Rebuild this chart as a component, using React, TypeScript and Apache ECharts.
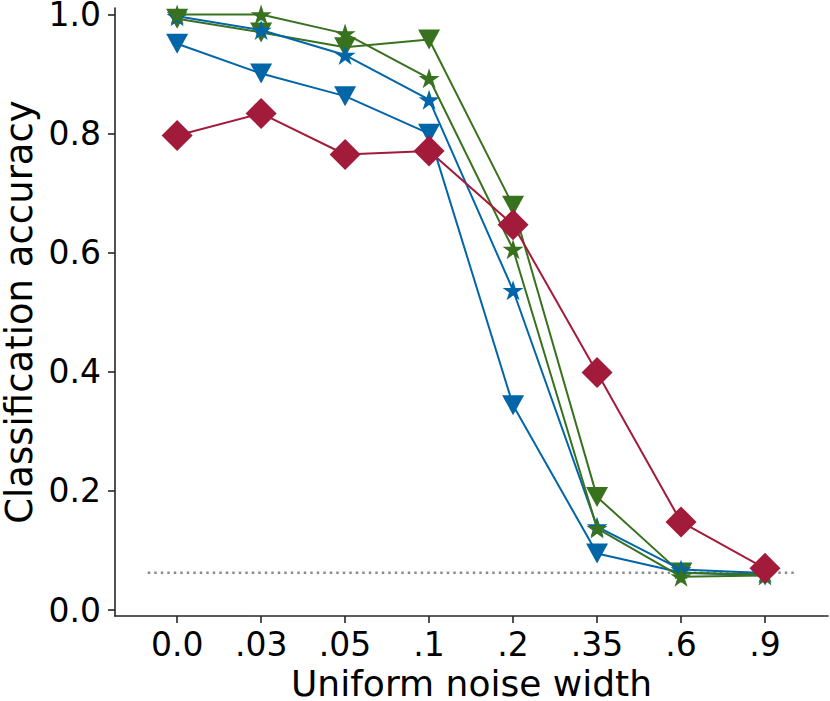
import React, { useEffect, useRef } from "react";
import * as echarts from "echarts";

const categories = ["0.0", ".03", ".05", ".1", ".2", ".35", ".6", ".9"];
const yTicks = [0, 0.2, 0.4, 0.6, 0.8, 1.0];
const chanceLevel = 0.0625;

const blueTriangle = [0.951, 0.901, 0.863, 0.8, 0.344, 0.095, 0.063, 0.058];
const greenTriangle = [0.993, 0.97, 0.945, 0.958, 0.679, 0.19, 0.062, 0.06];
const blueStar = [0.997, 0.974, 0.932, 0.857, 0.537, 0.14, 0.068, 0.062];
const greenStar = [1.0, 1.0, 0.968, 0.893, 0.606, 0.137, 0.056, 0.058];
const redDiamond = [0.797, 0.834, 0.765, 0.771, 0.647, 0.399, 0.148, 0.07];

const BLUE = "#0066A8";
const GREEN = "#38721F";
const RED = "#A31B3A";

const STAR =
  "path://M0,-1 L0.2245,-0.309 L0.951,-0.309 L0.3633,0.118 L0.588,0.809 L0,0.382 L-0.588,0.809 L-0.3633,0.118 L-0.951,-0.309 L-0.2245,-0.309 Z";

const toPoints = (arr: number[]) => arr.map((v, i) => [i, v]);

export default function App() {
  const ref = useRef<HTMLDivElement>(null);
  useEffect(() => {
    if (!ref.current) return;
    const chart = echarts.init(ref.current, null, { renderer: "svg" });
    const font = "DejaVu Sans";
    const mk = (
      name: string,
      data: number[],
      color: string,
      symbol: string,
      size: number[],
      rotate: number,
      z: number
    ) => ({
      name,
      type: "line",
      data: toPoints(data),
      symbol,
      symbolSize: size,
      symbolRotate: rotate,
      showAllSymbol: true,
      z,
      lineStyle: { color, width: 2 },
      itemStyle: { color, borderWidth: 0 },
      emphasis: { disabled: true },
    });
    chart.setOption({
      animation: false,
      grid: { left: 115, right: 2, top: 8, bottom: 85, outerBoundsMode: "none", containLabel: false },
      xAxis: {
        type: "value",
        min: -0.74,
        max: 7.75,
        name: "Uniform noise width",
        nameLocation: "middle",
        nameGap: 50,
        nameTextStyle: { fontFamily: font, fontSize: 36, lineHeight: 30, color: "#000" },
        axisLine: { show: true, onZero: false, lineStyle: { color: "#262626", width: 1.6 } },
        axisTick: { show: true, customValues: categories.map((_, i) => i), length: 7, lineStyle: { color: "#262626", width: 1.6 } },
        axisLabel: {
          customValues: categories.map((_, i) => i),
          formatter: (v: number) => categories[Math.round(v)] ?? "",
          fontFamily: font,
          fontSize: 33,
          color: "#000",
          margin: 12,
        },
        splitLine: { show: false },
      },
      yAxis: {
        type: "value",
        min: -0.01,
        max: 1.011,
        name: "Classification accuracy",
        nameLocation: "middle",
        nameRotate: 90,
        nameGap: 75,
        nameTextStyle: { fontFamily: font, fontSize: 37, lineHeight: 30, color: "#000" },
        axisLine: { show: true, onZero: false, lineStyle: { color: "#262626", width: 1.6 } },
        axisTick: { show: true, customValues: yTicks, length: 7, lineStyle: { color: "#262626", width: 1.6 } },
        axisLabel: {
          customValues: yTicks,
          formatter: (v: number) => v.toFixed(1),
          fontFamily: font,
          fontSize: 33,
          lineHeight: 26,
          color: "#000",
          margin: 14,
        },
        splitLine: { show: false },
      },
      series: [
        {
          name: "chance",
          type: "line",
          data: [[-0.35, chanceLevel], [7.35, chanceLevel]],
          symbol: "none",
          z: 1,
          lineStyle: { color: "#8c8c8c", width: 2.5, type: [2.5, 4] },
          emphasis: { disabled: true },
        },
        mk("blueTri", blueTriangle, BLUE, "triangle", [22, 20], 180, 2),
        mk("greenTri", greenTriangle, GREEN, "triangle", [22, 20], 180, 3),
        mk("blueStar", blueStar, BLUE, STAR, [21, 20], 0, 4),
        mk("greenStar", greenStar, GREEN, STAR, [21, 20], 0, 5),
        mk("red", redDiamond, RED, "diamond", [31, 31], 0, 6),
      ],
    });
    return () => chart.dispose();
  }, []);
  return (
    <div
      ref={ref}
      style={{ position: "fixed", left: 0, top: 0, width: 830, height: 701, background: "#fff" }}
    />
  );
}
